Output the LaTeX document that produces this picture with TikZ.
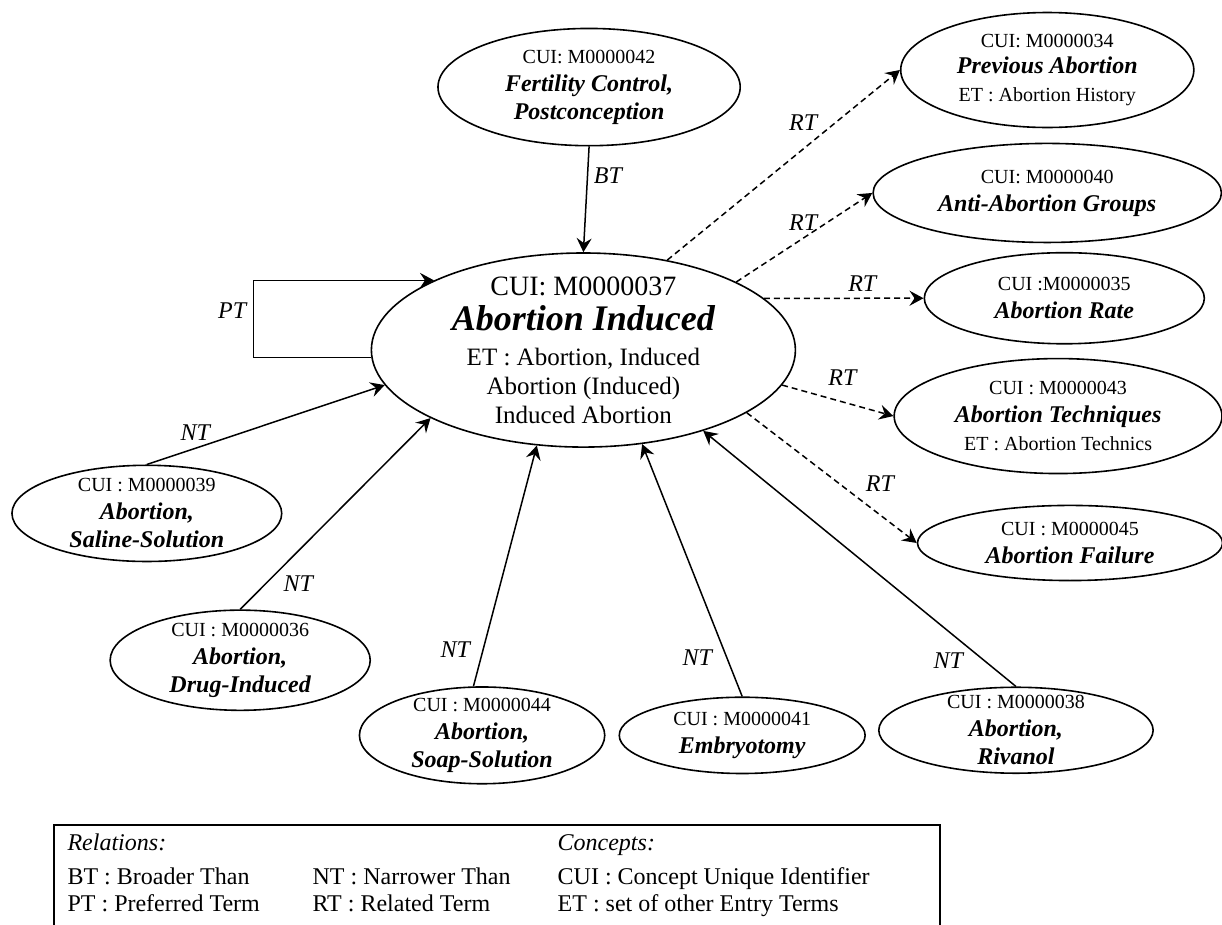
\documentclass[tikz,border=0pt]{standalone}
\usepackage{fontspec}
\setmainfont{Liberation Serif}
\usetikzlibrary{shapes.geometric,arrows.meta}
\tikzset{
  concept/.style={ellipse, draw, line width=0.8pt, inner xsep=0pt, inner ysep=-8pt, align=center, font=\fontsize{10}{14}\selectfont},
  rel/.style={line width=0.75pt, -{Stealth[length=7pt,width=7.5pt,inset=2.5pt]}},
  relrt/.style={rel, dash pattern=on 3pt off 2pt},
  lab/.style={font=\fontsize{12}{14}\selectfont\itshape},
}
\newcommand{\term}[1]{{\fontsize{12}{14}\selectfont\bfseries\itshape #1}}

\begin{document}
\begin{tikzpicture}
\useasboundingbox (0,0) rectangle (21.47,16.24);
% concepts
\node[concept, minimum width=7.45cm, minimum height=3.41cm, font=\fontsize{12.5}{14.5}\selectfont] (main) at (10.25,10.09)
  {{\fontsize{14}{14.5}\selectfont CUI: M0000037}\\[3pt] {\fontsize{18}{14.5}\selectfont\bfseries\itshape Abortion Induced}\\[3pt]
   ET : Abortion, Induced\\ Abortion (Induced)\\ Induced Abortion};
\node[concept, minimum width=5.31cm, minimum height=2.06cm] (fertility) at (10.35,14.71) {CUI: M0000042\\ \term{Fertility Control,}\\ \term{Postconception}};
\node[concept, minimum width=5.15cm, minimum height=2.02cm] (previous) at (18.40,15.01) {CUI: M0000034\\[-1pt] \term{Previous Abortion}\\[0pt] ET : Abortion History};
\node[concept, minimum width=6.12cm, minimum height=1.74cm] (antigroups) at (18.40,12.85) {CUI: M0000040\\ \term{Anti-Abortion Groups}};
\node[concept, minimum width=4.92cm, minimum height=1.60cm] (rate) at (18.70,11.00) {CUI :M0000035\\ \term{Abortion Rate}};
\node[concept, minimum width=5.76cm, minimum height=2.02cm] (techniques) at (18.59,8.93) {CUI : M0000043\\ \term{Abortion Techniques}\\ ET : Abortion Technics};
\node[concept, minimum width=5.36cm, minimum height=1.32cm] (failure) at (18.80,6.70) {CUI : M0000045\\ \term{Abortion Failure}};
\node[concept, minimum width=4.74cm, minimum height=1.69cm] (saline) at (2.58,7.22) {CUI : M0000039\\ \term{Abortion,}\\ \term{Saline-Solution}};
\node[concept, minimum width=4.57cm, minimum height=1.76cm] (drug) at (4.22,4.64) {CUI : M0000036\\ \term{Abortion,}\\ \term{Drug-Induced}};
\node[concept, minimum width=4.31cm, minimum height=1.70cm] (soap) at (8.47,3.32) {CUI : M0000044\\ \term{Abortion,}\\ \term{Soap-Solution}};
\node[concept, minimum width=4.32cm, minimum height=1.34cm] (embryotomy) at (13.04,3.32) {CUI : M0000041\\ \term{Embryotomy}};
\node[concept, minimum width=4.82cm, minimum height=1.51cm] (rivanol) at (17.85,3.41) {CUI : M0000038\\ \term{Abortion,}\\ \term{Rivanol}};
% relations
\draw[rel] (fertility.south) -- (main.north);
\draw[rel] (main.182) -- ++(-2.07,0) |- (main.155);
\draw[relrt] (main.47) -- (previous.west);
\draw[relrt] (main.24) -- (antigroups.west);
\draw[relrt] (main.16) -- (rate.west);
\draw[relrt] (main.350) -- (techniques.west);
\draw[relrt] (main.339) -- (failure.west);
\draw[rel] (saline.north) -- (main.190);
\draw[rel] (drug.north) -- (main.204);
\draw[rel] (soap.100) -- (main.244);
\draw[rel] (embryotomy.north) -- (main.302);
\draw[rel] (rivanol.north) -- (main.326);
\node[lab] (lpt) at (4.08,10.79) {PT};
\node[lab] (lbt) at (10.68,13.16) {BT};
\node[lab] (lprevious) at (14.11,14.08) {RT};
\node[lab] (lgroups) at (14.11,12.32) {RT};
\node[lab] (lrate) at (15.15,11.26) {RT};
\node[lab] (ltechniques) at (14.80,9.60) {RT};
\node[lab] (lfailure) at (15.46,7.75) {RT};
\node[lab] (lsaline) at (3.43,8.63) {NT};
\node[lab] (ldrug) at (5.24,5.99) {NT};
\node[lab] (lsoap) at (8.00,4.82) {NT};
\node[lab] (lembryotomy) at (12.25,4.69) {NT};
\node[lab] (lrivanol) at (16.66,4.64) {NT};
% legend
\node[anchor=north west, inner sep=0pt, font=\fontsize{12}{13.5}\selectfont] (legend) at (1.18,1.63)
  {\begin{tabular}{@{}p{122.5pt}@{}p{122.5pt}@{}l@{}}
   \textit{Relations:} & & \textit{Concepts:}\\[3.5pt]
   BT : Broader Than & NT : Narrower Than & CUI : Concept Unique Identifier\\
   PT : Preferred Term & RT : Related Term & ET : set of other Entry Terms
   \end{tabular}};
\draw[line width=0.8pt] (0.95,-0.2) |- (16.52,1.74) -- (16.52,-0.2);
\end{tikzpicture}
\end{document}
